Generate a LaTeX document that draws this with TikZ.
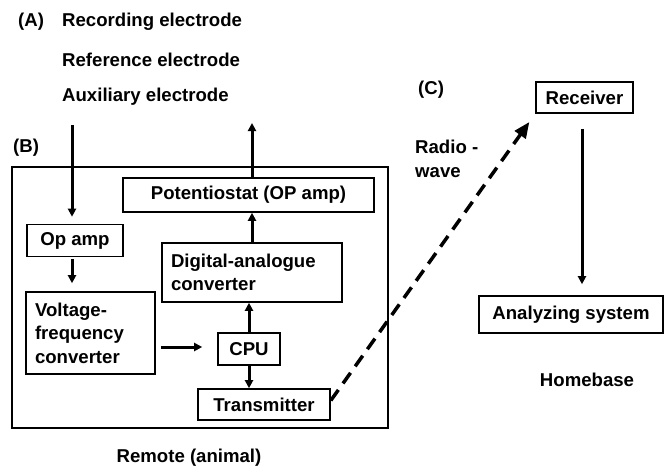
\documentclass[tikz,border=0pt]{standalone}
\usepackage{fontspec}
\setmainfont{Liberation Sans}
\usetikzlibrary{arrows.meta}
\begin{document}
\begin{tikzpicture}[x=1pt,y=-1pt,
  font=\fontsize{18.6}{23.5}\selectfont\bfseries,
  box/.style={draw, line width=1.6pt, inner sep=0pt, anchor=center},
  arr/.style={line width=3pt, -{Triangle[length=8pt,width=8pt]}},
  lbl/.style={inner sep=0pt, anchor=west}]
\useasboundingbox (0,0) rectangle (666,476);
% labels
\node[lbl] (A) at (18,22) {(A)};
\node[lbl] (rec1) at (62,22) {Recording electrode};
\node[lbl] (ref1) at (62,60) {Reference electrode};
\node[lbl] (aux1) at (62,97) {Auxiliary electrode};
\node[lbl] (B) at (13,148) {(B)};
\node[lbl] (C) at (418,90) {(C)};
\node[lbl, align=left] (radio) at (415,159) {Radio -\\wave};
\node[inner sep=0pt] (home) at (587,380) {Homebase};
\node[inner sep=0pt] (rem) at (189,458) {Remote (animal)};
% outer box
\node[draw, line width=2.4pt, minimum width=376pt, minimum height=261pt, inner sep=0pt] (remote) at (200,297.5) {};
% boxes
\node[box, minimum width=96pt, minimum height=32pt] (opamp) at (75,240.5) {Op amp};
\node[box, minimum width=129pt, minimum height=82pt, text width=111pt, align=left] (vf) at (90.5,333) {Voltage-\\frequency\\converter};
\node[box, minimum width=62pt, minimum height=32pt] (cpu) at (249,349) {CPU};
\node[box, minimum width=180pt, minimum height=59pt, text width=162pt, align=left] (dac) at (252,272.5) {Digital-analogue\\converter};
\node[box, minimum width=251pt, minimum height=34pt] (pot) at (248.5,195) {Potentiostat (OP amp)};
\node[box, minimum width=132pt, minimum height=31pt] (trans) at (264,404.5) {Transmitter};
\node[box, minimum width=97pt, minimum height=31pt] (rec) at (584.5,97.5) {Receiver};
\node[box, minimum width=184pt, minimum height=37pt] (anal) at (571,314.5) {Analyzing system};
% connectors
\coordinate (ein) at (72,125);
\draw[arr, shorten >=7pt] (ein) -- (ein |- opamp.north);
\draw[arr, shorten <=2pt, shorten >=8pt] (ein |- opamp.south) -- (ein |- vf.north);
\draw[arr] ([xshift=5pt]vf.east |- 0,347) -- ([xshift=-15pt]cpu.west |- 0,347);
\draw[arr] (cpu.north) -- (cpu.north |- dac.south);
\draw[arr] (cpu.south) -- (cpu.south |- trans.north);
\coordinate (pout) at (252,123);
\draw[arr] (pout |- dac.north) -- (pout |- pot.south);
\draw[arr] (pout |- pot.north) -- (pout);
\draw[line width=3.5pt, dash pattern=on 13pt off 8pt, -{Triangle[length=16pt,width=13pt]}, shorten >=10pt] ([yshift=4pt]trans.east) -- (rec.south west);
\coordinate (rx) at (582,0);
\draw[arr, shorten <=15pt, shorten >=11pt] (rx |- rec.south) -- (rx |- anal.north);
\end{tikzpicture}
\end{document}
